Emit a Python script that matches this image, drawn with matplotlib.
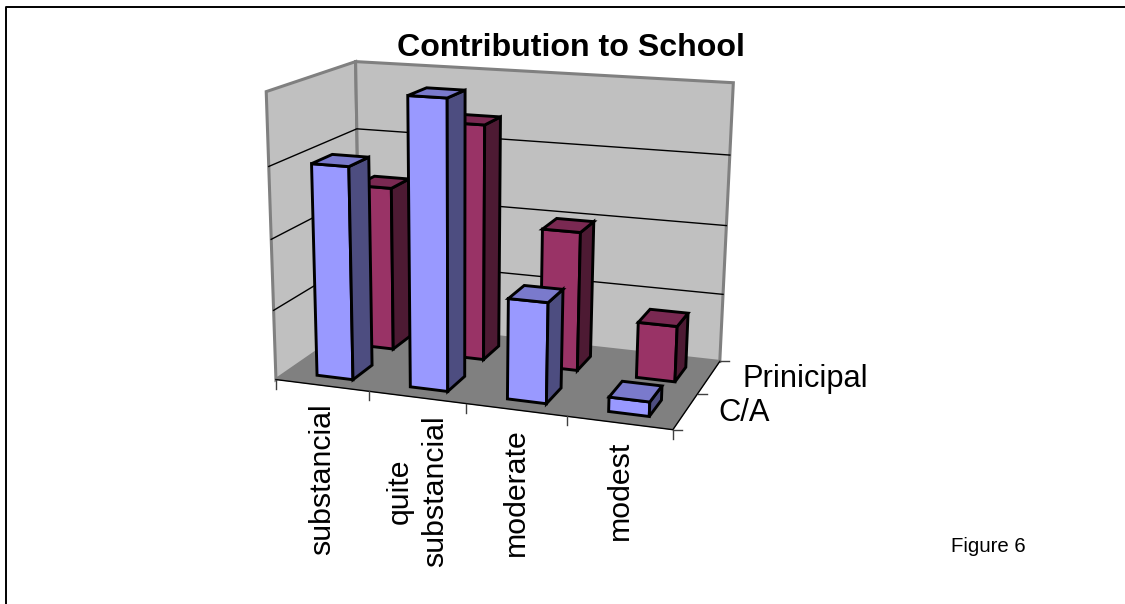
import numpy as np
import matplotlib
matplotlib.use('Agg')
import matplotlib.pyplot as plt
from matplotlib.patches import Polygon

plt.rcParams['font.family'] = ['Liberation Sans', 'DejaVu Sans']

# chart values
categories = ['substancial', 'quite\nsubstancial', 'moderate', 'modest']
series_names = ['C/A', 'Prinicipal']
ca_values = [30, 40, 14, 2]
principal_values = [24, 34, 20, 8]
value_max = 40
value_ticks = [10, 20, 30, 40]

# face colours: front, side, top
ca_colors = ['#9999FF', '#4D4D80', '#7A7ACC']
principal_colors = ['#993366', '#4D1A33', '#7A2952']

# where the corners of the 3D box land on the picture (category, series, value 0-1)
box_3d = np.array([[0, 0, 0], [4, 0, 0], [4, 2, 0], [0, 2, 0],
                   [0, 0, 1], [0, 2, 1], [4, 2, 1]], dtype=float)
box_px = np.array([[277, 378], [673, 431], [720, 360], [359, 323],
                   [265, 92], [357, 61], [733, 83]], dtype=float)


# fit a projective camera to the box corners
def fit_camera(pts3, pts2):
    rows = []
    rhs = []
    for (x, y, z), (u, v) in zip(pts3, pts2):
        rows.append([x, y, z, 1, 0, 0, 0, 0, -u * x, -u * y, -u * z])
        rhs.append(u)
        rows.append([0, 0, 0, 0, x, y, z, 1, -v * x, -v * y, -v * z])
        rhs.append(v)
    sol = np.linalg.lstsq(np.array(rows), np.array(rhs), rcond=None)[0]
    return np.append(sol, 1).reshape(3, 4)


camera = fit_camera(box_3d, box_px)


def project(x, y, value):
    p = camera @ np.array([x, y, value / value_max, 1.0])
    return p[0] / p[2], p[1] / p[2]


fig = plt.figure(figsize=(11.25, 6.04), dpi=100)
ax = fig.add_axes([0, 0, 1, 1])
ax.set_xlim(0, 1125)
ax.set_ylim(604, 0)
ax.axis('off')

# outer frame, only left and top are in the picture
ax.plot([6, 6, 1125], [604, 6.5, 6.5], color='black', lw=1.4, zorder=0)


def face(pts, fc, ec, lw, z):
    ax.add_patch(Polygon([project(*p) for p in pts], closed=True, fc=fc, ec=ec,
                         lw=lw, joinstyle='miter', zorder=z))


# walls and floor
wall_ec = '#808080'
face([(0, 0, 0), (0, 2, 0), (0, 2, value_max), (0, 0, value_max)], '#C0C0C0', wall_ec, 2.2, 1)
face([(0, 2, 0), (4, 2, 0), (4, 2, value_max), (0, 2, value_max)], '#C0C0C0', wall_ec, 2.2, 1)
face([(0, 0, 0), (4, 0, 0), (4, 2, 0), (0, 2, 0)], '#808080', '#808080', 0.5, 2)

# gridlines
for v in value_ticks[:-1]:
    pts = [project(0, 0, v), project(0, 2, v), project(4, 2, v)]
    ax.plot([p[0] for p in pts], [p[1] for p in pts], color='black', lw=1.0, zorder=3)

# axis lines and ticks
pts = [project(0, 0, 0), project(4, 0, 0), project(4, 2, 0)]
ax.plot([p[0] for p in pts], [p[1] for p in pts], color='black', lw=1.0, zorder=3)
for i in range(len(categories) + 1):
    px, py = project(i, 0, 0)
    ax.plot([px, px], [py, py + 9], color='#404040', lw=1.0, zorder=3)
for j in range(len(series_names) + 1):
    px, py = project(4, j, 0)
    ax.plot([px, px + 9], [py, py], color='#404040', lw=1.0, zorder=3)

# bars, back row first
bar_x = 0.325, 0.715
bar_y = 0.25, 0.71
rows = [(1, principal_values, principal_colors), (0, ca_values, ca_colors)]
for j, values, colors in rows:
    y0, y1 = j + bar_y[0], j + bar_y[1]
    for i, v in enumerate(values):
        x0, x1 = i + bar_x[0], i + bar_x[1]
        z = 10 + 2 * j * -1 + i * 0.01
        face([(x0, y0, 0), (x1, y0, 0), (x1, y0, v), (x0, y0, v)], colors[0], 'black', 2.1, z)
        face([(x1, y0, 0), (x1, y1, 0), (x1, y1, v), (x1, y0, v)], colors[1], 'black', 2.1, z)
        face([(x0, y0, v), (x1, y0, v), (x1, y1, v), (x0, y1, v)], colors[2], 'black', 2.1, z)

# category labels
for i, name in enumerate(categories):
    px, py = project(i + 0.5, 0, 0)
    ax.text(px, py + 18, name, rotation=90, ha='center', va='top', fontsize=21.8,
            multialignment='center', linespacing=1.35, color='black', zorder=20)

# series labels
for j, name in enumerate(series_names):
    px, py = project(4, j + 0.5, 0)
    ax.text(px + 33, py + 2, name, ha='left', va='center', fontsize=22.2, color='black', zorder=20)

ax.text(571, 48, 'Contribution to School', ha='center', va='center', fontsize=23.1,
        fontweight='bold', color='black')
ax.text(988, 546, 'Figure 6', ha='center', va='center', fontsize=14.7, color='black')

fig.savefig('out.png', dpi=100)
